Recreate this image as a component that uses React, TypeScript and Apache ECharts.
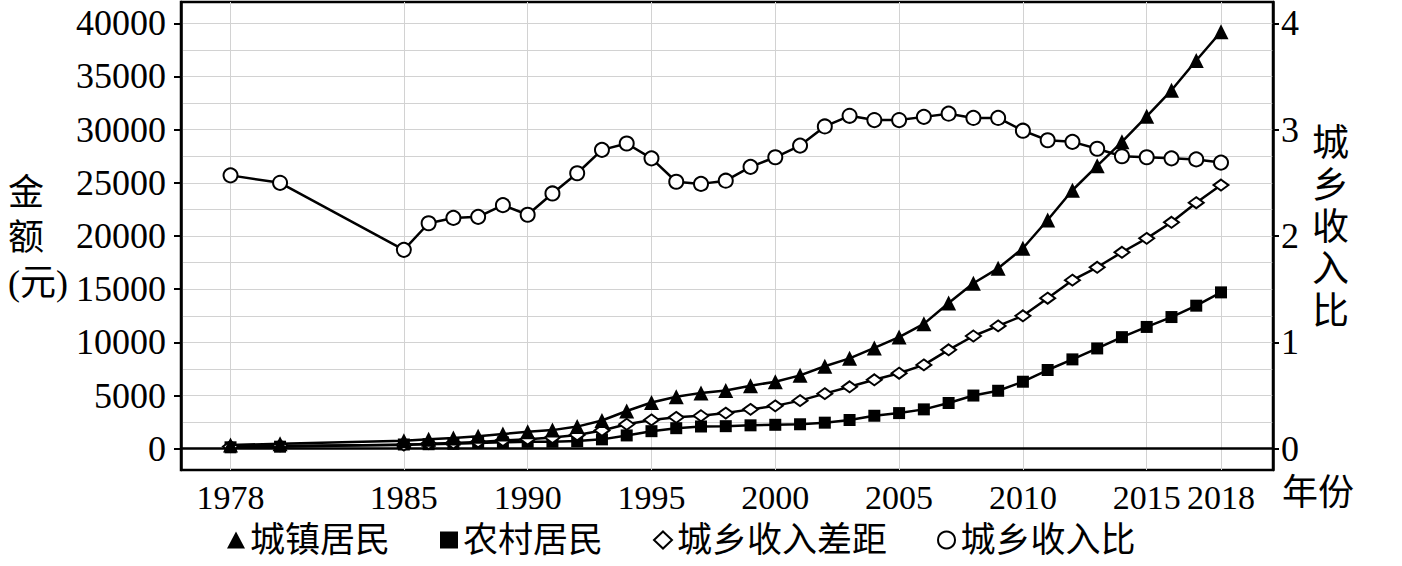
import { useEffect, useRef } from "react";
import * as echarts from "echarts";

const years = [
  1978, 1980,
  1985, 1986, 1987, 1988, 1989,
  1990, 1991, 1992, 1993, 1994, 1995, 1996, 1997, 1998, 1999,
  2000, 2001, 2002, 2003, 2004, 2005, 2006, 2007, 2008, 2009,
  2010, 2011, 2012, 2013, 2014, 2015, 2016, 2017, 2018,
];
const urban = [
  343, 478,
  739, 901, 1002, 1180, 1374,
  1600, 1750, 2080, 2650, 3550, 4350, 4880, 5250, 5480, 5920,
  6300, 6900, 7750, 8500, 9480, 10500, 11740, 13700, 15560, 16960,
  18850, 21500, 24300, 26600, 28850, 31250, 33700, 36500, 39200,
];
const rural = [
  134, 191,
  398, 424, 463, 545, 602,
  650, 660, 720, 880, 1250, 1650, 1930, 2090, 2120, 2200,
  2250, 2300, 2450, 2700, 3100, 3350, 3700, 4300, 5000, 5450,
  6300, 7400, 8400, 9430, 10490, 11450, 12380, 13450, 14700,
];
const gap = [
  209, 287,
  341, 477, 539, 635, 772,
  900, 1050, 1300, 1720, 2300, 2710, 2950, 3100, 3350, 3700,
  4030, 4520, 5180, 5820, 6480, 7100, 7880, 9300, 10600, 11550,
  12500, 14150, 15850, 17060, 18470, 19780, 21290, 23130, 24790,
];
const ratio = [
  2.57, 2.5,
  1.87, 2.12, 2.17, 2.18, 2.29,
  2.2, 2.4, 2.59, 2.81, 2.87, 2.73, 2.51, 2.49, 2.52, 2.65,
  2.74, 2.85, 3.03, 3.13, 3.09, 3.09, 3.12, 3.15, 3.11, 3.11,
  2.99, 2.9, 2.885, 2.82, 2.75, 2.74, 2.73, 2.72, 2.69,
];

const yearTicks = [1978, 1985, 1990, 1995, 2000, 2005, 2010, 2015, 2018];
const amountTicks = [0, 5000, 10000, 15000, 20000, 25000, 30000, 35000, 40000];
const amountGrid = [
  0, 2500, 5000, 7500, 10000, 12500, 15000, 17500, 20000,
  22500, 25000, 27500, 30000, 32500, 35000, 37500, 40000,
];
const ratioTicks = [0, 1, 2, 3, 4];

const seriesNames = ["城镇居民", "农村居民", "城乡收入差距", "城乡收入比"];

const SERIF = "'Liberation Serif', 'Times New Roman', 'Noto Sans CJK SC', serif";

export default function App() {
  const ref = useRef<HTMLDivElement>(null);

  useEffect(() => {
    if (!ref.current) return;
    const chart = echarts.init(ref.current, undefined, { renderer: "svg" });
    const pair = (arr: number[]) => years.map((y, i) => [y, arr[i]]);

    chart.setOption({
      animation: false,
      backgroundColor: "#fff",
      grid: {
        left: 181,
        right: 129,
        top: 2,
        bottom: 96,
        show: true,
        borderColor: "#000",
        borderWidth: 2.5,
        backgroundColor: "transparent",
      },
      legend: {
        left: 222,
        top: 515,
        itemWidth: 18,
        itemHeight: 17,
        itemGap: 50,
        textStyle: { fontFamily: SERIF, fontSize: 35, lineHeight: 40, color: "#000" },
        data: [
          { name: seriesNames[0], icon: "triangle", itemStyle: { color: "#000", borderWidth: 0 } },
          { name: seriesNames[1], icon: "rect", itemStyle: { color: "#000", borderWidth: 0 } },
          { name: seriesNames[2], icon: "diamond", itemStyle: { color: "#fff", borderColor: "#000", borderWidth: 2 } },
          { name: seriesNames[3], icon: "circle", itemStyle: { color: "#fff", borderColor: "#000", borderWidth: 2 } },
        ],
      },
      xAxis: {
        type: "value",
        min: 1976,
        max: 2020.1,
        axisLine: { show: true, lineStyle: { color: "#000", width: 2.5 } },
        axisTick: { show: false, customValues: yearTicks },
        axisLabel: {
          customValues: yearTicks,
          formatter: (v: number) => String(v),
          fontFamily: SERIF,
          fontSize: 34,
          color: "#000",
          margin: 10,
        },
        splitLine: { show: true, lineStyle: { color: "#d2d2d2", width: 1 } },
      },
      yAxis: [
        {
          type: "value",
          position: "left",
          min: -2000,
          max: 42000,
          axisLine: { show: true, lineStyle: { color: "#000", width: 2.5 } },
          axisTick: { show: true, customValues: amountTicks, length: 7, lineStyle: { color: "#000", width: 2 } },
          axisLabel: {
            customValues: amountTicks,
            formatter: (v: number) => String(v),
            fontFamily: SERIF,
            fontSize: 36,
            color: "#000",
            margin: 15,
          },
          splitLine: { show: false },
        },
        {
          type: "value",
          position: "right",
          min: -0.2,
          max: 4.2,
          axisLine: { show: true, lineStyle: { color: "#000", width: 2.5 } },
          axisTick: { show: true, customValues: ratioTicks, length: 6, lineStyle: { color: "#000", width: 2 } },
          axisLabel: {
            customValues: ratioTicks,
            formatter: (v: number) => String(v),
            fontFamily: SERIF,
            fontSize: 36,
            color: "#000",
            margin: 8,
          },
          splitLine: { show: false },
        },
        {
          type: "value",
          position: "left",
          min: -2000,
          max: 42000,
          axisLine: { show: false },
          axisTick: { show: false, customValues: amountGrid },
          axisLabel: { show: false, customValues: amountGrid },
          splitLine: { show: true, lineStyle: { color: "#d2d2d2", width: 1 } },
        },
      ],
      graphic: [
        {
          type: "text",
          left: 8,
          top: 170,
          style: {
            text: "金\n额\n(元)",
            fontFamily: SERIF,
            fontSize: 36,
            lineHeight: 45,
            fill: "#000",
            align: "center",
          },
        },
        {
          type: "text",
          left: 1312,
          top: 122,
          style: {
            text: "城\n乡\n收\n入\n比",
            fontFamily: SERIF,
            fontSize: 37,
            lineHeight: 42,
            fill: "#000",
            align: "center",
          },
        },
        {
          type: "text",
          left: 1282,
          top: 473,
          style: {
            text: "年份",
            fontFamily: SERIF,
            fontSize: 36,
            lineHeight: 40,
            fill: "#000",
          },
        },
      ],
      series: [
        {
          name: seriesNames[1],
          type: "line",
          yAxisIndex: 0,
          data: pair(rural),
          symbol: "rect",
          symbolSize: 12,
          lineStyle: { color: "#000", width: 2.5 },
          itemStyle: { color: "#000" },
          z: 2,
        },
        {
          name: seriesNames[2],
          type: "line",
          yAxisIndex: 0,
          data: pair(gap),
          symbol: "diamond",
          symbolSize: [15, 11],
          lineStyle: { color: "#000", width: 2.5 },
          itemStyle: { color: "#fff", borderColor: "#000", borderWidth: 2 },
          z: 3,
        },
        {
          name: seriesNames[0],
          type: "line",
          yAxisIndex: 0,
          data: pair(urban),
          symbol: "triangle",
          symbolSize: 15,
          lineStyle: { color: "#000", width: 2.5 },
          itemStyle: { color: "#000" },
          z: 4,
        },
        {
          name: seriesNames[3],
          type: "line",
          yAxisIndex: 1,
          data: pair(ratio),
          symbol: "circle",
          symbolSize: 14,
          showAllSymbol: true,
          lineStyle: { color: "#000", width: 2.5 },
          itemStyle: { color: "#fff", borderColor: "#000", borderWidth: 2 },
          z: 5,
        },
      ],
    });
    return () => chart.dispose();
  }, []);

  return (
    <div
      ref={ref}
      style={{ position: "fixed", left: 0, top: 0, width: 1402, height: 566, background: "#fff" }}
    />
  );
}
